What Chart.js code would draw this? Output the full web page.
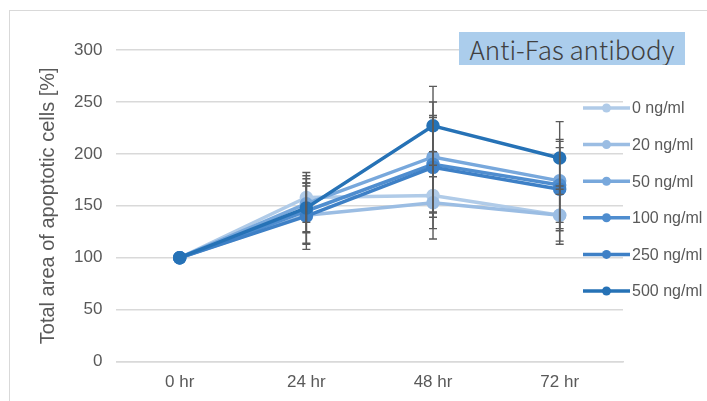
<!DOCTYPE html>
<html>
<head>
<meta charset="utf-8">
<script src="https://cdn.jsdelivr.net/npm/chart.js@4.4.1/dist/chart.umd.min.js"></script>
<style>
  html, body { margin: 0; padding: 0; background: #fff; }
  #wrap { position: relative; width: 707px; height: 401px; overflow: hidden; }
  #frame { position: absolute; left: 9px; top: 10px; width: 720px; height: 420px; border-left: 1px solid #d9d9d9; border-top: 1px solid #d9d9d9; }
  #title { position: absolute; left: 459px; top: 32px; width: 226px; height: 33px; background: #abcdec; color: #404040;
           font-family: "Noto Sans CJK JP", "Noto Sans", sans-serif; font-weight: 300; font-size: 26px; line-height: 33px; text-align: center; white-space: nowrap; overflow: hidden; }
  canvas { position: absolute; left: 0; top: 0; }
</style>
</head>
<body>
<div id="wrap">
  <div id="frame"></div>
  <canvas id="c" width="707" height="401"></canvas>
  <div id="title">Anti-Fas antibody</div>
</div>
<script>
// ---- data ----
const categories = ["0 hr", "24 hr", "48 hr", "72 hr"];
const seriesNames = ["0 ng/ml", "20 ng/ml", "50 ng/ml", "100 ng/ml", "250 ng/ml", "500 ng/ml"];
const s0   = [100, 158, 160, 141];
const s20  = [100, 141, 153, 141];
const s50  = [100, 152, 197, 174];
const s100 = [100, 145, 190, 170];
const s250 = [100, 140, 187, 166];
const s500 = [100, 148, 227, 196];
// error (± SD)
const e0   = [0, 24, 42, 28];
const e20  = [0, 28, 25, 25];
const e50  = [0, 27, 53, 40];
const e100 = [0, 31, 47, 42];
const e250 = [0, 32, 48, 40];
const e500 = [0, 24, 38, 35];
const yTicks = [0, 50, 100, 150, 200, 250, 300];

const values = [s0, s20, s50, s100, s250, s500];
const errors = [e0, e20, e50, e100, e250, e500];
const colors = ["#b0cbe8", "#9bbde3", "#78a8dc", "#4f8dcf", "#3e80c6", "#2672b6"];

const FONT = "'Liberation Sans', Arial, sans-serif";

const datasets = seriesNames.map((n, i) => ({
  label: n,
  data: values[i],
  errors: errors[i],
  borderColor: colors[i],
  backgroundColor: colors[i],
  pointBackgroundColor: colors[i],
  pointBorderColor: colors[i],
  borderWidth: 3.5,
  pointRadius: 5,
  pointHoverRadius: 5,
  tension: 0,
  order: seriesNames.length - 1 - i
}));

const errorBars = {
  id: 'errorBars',
  afterDatasetsDraw(chart) {
    const ctx = chart.ctx;
    const y = chart.scales.y;
    ctx.save();
    ctx.strokeStyle = '#5a5a5a';
    ctx.lineWidth = 1.4;
    chart.data.datasets.forEach((ds, di) => {
      const meta = chart.getDatasetMeta(di);
      meta.data.forEach((pt, j) => {
        const e = ds.errors[j];
        if (!e) return;
        const v = ds.data[j];
        const yt = y.getPixelForValue(v + e);
        const yb = y.getPixelForValue(v - e);
        const x = pt.x;
        ctx.beginPath();
        ctx.moveTo(x, yt); ctx.lineTo(x, yb);
        ctx.moveTo(x - 4, yt); ctx.lineTo(x + 4, yt);
        ctx.moveTo(x - 4, yb); ctx.lineTo(x + 4, yb);
        ctx.stroke();
      });
    });
    ctx.restore();
  }
};

const customLegend = {
  id: 'customLegend',
  afterDraw(chart) {
    const ctx = chart.ctx;
    ctx.save();
    const x0 = 583, x1 = 630, top = 108, step = 36.6;
    chart.data.datasets.forEach((ds, i) => {
      const yy = top + i * step;
      ctx.strokeStyle = ds.borderColor;
      ctx.lineWidth = 3.5;
      ctx.beginPath(); ctx.moveTo(x0, yy); ctx.lineTo(x1, yy); ctx.stroke();
      ctx.fillStyle = ds.borderColor;
      ctx.beginPath(); ctx.arc((x0 + x1) / 2, yy, 4.5, 0, Math.PI * 2); ctx.fill();
      ctx.fillStyle = '#595959';
      ctx.font = "16px " + FONT;
      ctx.textBaseline = 'middle';
      ctx.textAlign = 'left';
      ctx.fillText(ds.label, x1 + 2, yy + 1);
    });
    ctx.restore();
  }
};

new Chart(document.getElementById('c'), {
  type: 'line',
  data: { labels: categories, datasets },
  options: {
    responsive: false,
    animation: false,
    layout: { padding: { left: 28, right: 84, top: 50, bottom: -3 } },
    plugins: { legend: { display: false }, tooltip: { enabled: false }, title: { display: false } },
    scales: {
      x: {
        offset: true,
        grid: { display: false, drawTicks: false },
        border: { display: true, color: '#d9d9d9', width: 1.5 },
        ticks: { color: '#595959', font: { family: FONT, size: 17 }, padding: 11 }
      },
      y: {
        min: 0, max: 300,
        afterBuildTicks(scale) { scale.ticks = yTicks.map(v => ({ value: v })); },
        grid: { color: '#d9d9d9', lineWidth: 1.5, drawTicks: false },
        border: { display: false },
        ticks: { color: '#595959', font: { family: FONT, size: 17 }, padding: 14 },
        title: { display: true, text: 'Total area of apoptotic cells [%]', color: '#595959',
                 font: { family: FONT, size: 20 }, padding: { top: 8, bottom: 0 } }
      }
    }
  },
  plugins: [errorBars, customLegend]
});
</script>
</body>
</html>
